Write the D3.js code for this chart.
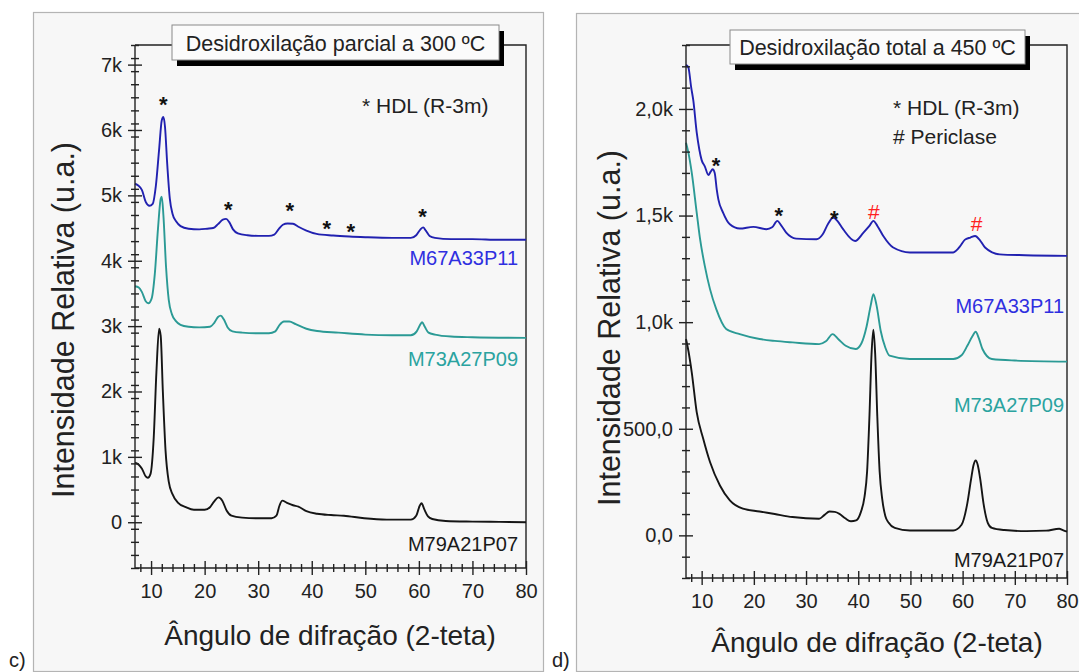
<!DOCTYPE html>
<html>
<head>
<meta charset="utf-8">
<script src="https://cdn.jsdelivr.net/npm/d3@7"></script>
<style>
  html, body { margin: 0; padding: 0; background: #ffffff; }
  svg { display: block; font-family: "Liberation Sans", Arial, sans-serif; }
</style>
</head>
<body>
<svg id="chart" width="1079" height="672"></svg>
<script>
// ---------------- DATA ----------------
const xTickValues = [10, 20, 30, 40, 50, 60, 70, 80];
const xTickLabels = ["10", "20", "30", "40", "50", "60", "70", "80"];

// Panel c) – partial dehydroxylation at 300 ºC
const cYTickValues = [0, 1000, 2000, 3000, 4000, 5000, 6000, 7000];
const cYTickLabels = ["0", "1k", "2k", "3k", "4k", "5k", "6k", "7k"];

const cM67A33P11 = [[7,5180],[7.6,5150],[8.3,5080],[9.0,4900],[9.7,4840],[10.3,4870],[10.9,5150],[11.5,5700],[12.0,6150],[12.3,6200],[12.6,6050],[13.0,5500],[13.5,4950],[14.0,4720],[14.7,4600],[15.5,4530],[17,4490],[19,4480],[20.5,4490],[21.6,4500],[22.5,4560],[23.4,4630],[24.0,4640],[24.6,4590],[25.3,4480],[26.2,4420],[28,4390],[30,4380],[32,4380],[33,4400],[33.8,4480],[34.6,4550],[35.5,4570],[36.5,4565],[37.5,4520],[39,4460],[40.9,4410],[44,4385],[47,4370],[50,4360],[55,4350],[58.5,4350],[59.5,4390],[60.3,4480],[60.8,4510],[61.3,4460],[62.0,4380],[63,4350],[66,4330],[70,4330],[75,4320],[80,4320]];

const cM73A27P09 = [[7,3610],[7.7,3590],[8.3,3520],[9.0,3380],[9.5,3350],[10.1,3420],[10.7,3800],[11.3,4500],[11.8,4950],[12.0,4980],[12.3,4700],[12.8,3900],[13.3,3400],[13.9,3180],[14.6,3080],[15.5,3020],[17,2990],[19,2980],[21,2990],[21.8,3050],[22.5,3140],[23.0,3160],[23.6,3100],[24.3,2980],[25.2,2920],[27,2900],[30,2890],[32,2890],[33.2,2920],[34.0,3020],[34.8,3070],[35.8,3070],[37,3030],[39,2960],[41,2925],[45,2900],[50,2870],[55,2860],[58.5,2860],[59.6,2920],[60.3,3030],[60.6,3060],[61.1,2990],[61.8,2900],[63,2870],[66,2840],[70,2830],[80,2820]];

const cM79A21P07 = [[7,910],[7.7,880],[8.3,820],[9.0,700],[9.4,680],[9.9,740],[10.5,1300],[11.0,2300],[11.5,2960],[11.8,2850],[12.2,2000],[12.7,1100],[13.3,620],[14.0,430],[15.0,300],[16.5,230],[18,190],[20,190],[21.0,230],[21.8,320],[22.6,380],[23.3,330],[24.1,180],[25,100],[27,70],[30,60],[32.5,60],[33.4,100],[34.0,260],[34.5,330],[35.3,300],[36.5,260],[37.5,240],[39,170],[41,130],[43.6,110],[46,100],[49.8,60],[54,40],[58.5,40],[59.5,100],[60.2,260],[60.5,290],[61.0,200],[61.7,90],[62.5,50],[65,20],[70,10],[75,5],[80,0]];

// peak markers of panel c) [2θ, intensity, symbol]
const cMarkers = [[12.3,6480,"*"],[24.4,4870,"*"],[35.9,4850,"*"],[42.8,4580,"*"],[47.3,4530,"*"],[60.7,4760,"*"]];

// Panel d) – total dehydroxylation at 450 ºC
const dYTickValues = [0, 500, 1000, 1500, 2000];
const dYTickLabels = ["0,0", "500,0", "1,0k", "1,5k", "2,0k"];

const dM67A33P11 = [[7,2207],[7.45,2195],[8.0,2100],[8.4,2040],[9.05,1890],[9.55,1810],[10.0,1760],[10.6,1731],[11.3,1690],[11.7,1705],[12.1,1717],[12.5,1700],[12.9,1620],[13.2,1576],[14.1,1514],[15.4,1459],[17.3,1439],[19.9,1447],[22.4,1436],[23.5,1445],[24.5,1475],[25.2,1455],[26.2,1420],[28.1,1392],[32,1389],[33.2,1412],[34.2,1460],[35.2,1491],[36.0,1475],[37.1,1436],[39.4,1381],[41,1420],[42.1,1450],[42.9,1475],[43.7,1450],[44.8,1404],[46.7,1350],[49.9,1327],[58.2,1327],[59.5,1355],[60.4,1386],[61.5,1397],[62.4,1404],[63.3,1385],[64.3,1350],[67.1,1318],[72,1314],[80,1311]];

const dM73A27P09 = [[7,1842],[7.4,1802],[8.1,1701],[9.05,1514],[9.7,1389],[10.6,1264],[11.6,1155],[12.8,1061],[14.7,968],[17.3,944],[21.1,921],[24,912],[27.4,905],[32.5,897],[33.8,910],[35.1,944],[36.2,920],[37.6,889],[39.5,874],[40.6,900],[41.6,980],[42.4,1080],[42.9,1131],[43.5,1080],[44.3,960],[45.2,880],[46,843],[49.9,827],[58.2,827],[59.8,845],[60.9,889],[61.9,935],[62.5,955],[63.1,925],[63.8,874],[65.6,827],[70,820],[80,815]];

const dM79A21P07 = [[7,921],[7.5,860],[8.1,765],[9.05,578],[10.3,453],[11.6,344],[13.5,234],[15.4,164],[17.9,125],[21.1,112],[24,100],[27.4,86],[32.5,78],[33.5,95],[34.5,112],[35.5,110],[36.4,101],[37.5,80],[38.6,66],[39.6,70],[40.5,109],[41.2,180],[41.7,300],[42.15,560],[42.55,850],[42.9,965],[43.25,850],[43.65,560],[44.1,300],[44.6,170],[45.2,90],[45.8,60],[47,35],[49.9,23],[58.2,23],[59.8,50],[60.9,150],[61.6,260],[62.1,330],[62.5,351],[62.9,330],[63.4,260],[64.0,150],[64.8,60],[65.6,35],[68,25],[72.2,20],[76,22],[78.5,31],[79.2,25],[80,17]];

const dMarkers = [[12.75,1763,"*"],[24.8,1529,"*"],[35.4,1511,"*"],[43.0,1520,"#"],[62.7,1463,"#"]];

const seriesNames = ["M67A33P11", "M73A27P09", "M79A21P07"];
const seriesColors = ["#2121b0", "#2b9a95", "#151515"];
const labelColors = ["#2f2fe0", "#2aa3a0", "#1a1a1a"];

// ---------------- DRAWING ----------------
const svg = d3.select("#chart");
const FONT = '"Liberation Sans", Arial, sans-serif';

function drawPanel(cfg) {
  const g = svg.append("g");
  // panel frame
  g.append("rect").attr("x", cfg.frame[0] + 0.5).attr("y", cfg.frame[1] + 0.5)
    .attr("width", cfg.frame[2]).attr("height", cfg.frame[3])
    .attr("fill", "#f7f7f7").attr("stroke", "#b4b4b4").attr("stroke-width", 1.2);

  const x = d3.scaleLinear().domain([7, 80]).range([cfg.left, cfg.right]);
  const y = d3.scaleLinear().domain(cfg.yDomain).range([cfg.bottom, cfg.top]);

  // frame top + right lines
  g.append("path")
    .attr("d", `M${cfg.left},${cfg.top}H${cfg.right}V${cfg.bottom}`)
    .attr("fill", "none").attr("stroke", "#222").attr("stroke-width", 1.4);

  // series
  const line = d3.line().x(d => x(d[0])).y(d => y(d[1])).curve(d3.curveMonotoneX);
  cfg.series.forEach((s, i) => {
    g.append("path").datum(s).attr("d", line)
      .attr("fill", "none").attr("stroke", seriesColors[i])
      .attr("stroke-width", 1.9).attr("stroke-linejoin", "round");
  });

  // y axis minor
  const yMinor = d3.range(cfg.yDomain[0], cfg.yDomain[1] + 1, cfg.yMinorStep)
    .filter(v => !cfg.yTicks.includes(v) && v >= cfg.yDomain[0] && v <= cfg.yDomain[1]);
  const gyMinor = g.append("g").attr("transform", `translate(${cfg.left},0)`)
    .call(d3.axisLeft(y).tickValues(yMinor).tickFormat("").tickSize(4));
  gyMinor.select(".domain").remove();
  gyMinor.selectAll(".tick line").attr("x1", 4).attr("x2", -4).attr("stroke", "#222").attr("stroke-width", 1.4);

  const gy = g.append("g").attr("transform", `translate(${cfg.left},0)`)
    .call(d3.axisLeft(y).tickValues(cfg.yTicks).tickFormat((d, i) => cfg.yLabels[i]).tickSize(7).tickPadding(6));
  gy.select(".domain").remove();
  gy.selectAll(".tick line").attr("x1", 7).attr("x2", -7).attr("stroke", "#222").attr("stroke-width", 1.4);
  gy.selectAll(".tick text").attr("font-size", 20).attr("font-family", FONT).attr("fill", "#222");

  // x axis minor
  const xMinor = d3.range(8, 81, 2).filter(v => v % 10 !== 0);
  const gxMinor = g.append("g").attr("transform", `translate(0,${cfg.bottom})`)
    .call(d3.axisBottom(x).tickValues(xMinor).tickFormat("").tickSize(4));
  gxMinor.select(".domain").remove();
  gxMinor.selectAll(".tick line").attr("y1", -4).attr("y2", 4).attr("stroke", "#222").attr("stroke-width", 1.4);

  const gx = g.append("g").attr("transform", `translate(0,${cfg.bottom})`)
    .call(d3.axisBottom(x).tickValues(xTickValues).tickFormat((d, i) => xTickLabels[i]).tickSize(7).tickPadding(9));
  gx.select(".domain").remove();
  gx.selectAll(".tick line").attr("y1", -7).attr("y2", 7).attr("stroke", "#222").attr("stroke-width", 1.4);
  gx.selectAll(".tick text").attr("font-size", 20).attr("font-family", FONT).attr("fill", "#222");

  // left + bottom axis lines
  g.append("path")
    .attr("d", `M${cfg.left},${cfg.top}V${cfg.bottom}H${cfg.right}`)
    .attr("fill", "none").attr("stroke", "#222").attr("stroke-width", 1.4);

  // title box with shadow
  const tb = cfg.titleBox;
  g.append("rect").attr("x", tb[0] + 5).attr("y", tb[1] + 6).attr("width", tb[2]).attr("height", tb[3]).attr("fill", "#000");
  g.append("rect").attr("x", tb[0]).attr("y", tb[1]).attr("width", tb[2]).attr("height", tb[3])
    .attr("fill", "#fbfbfb").attr("stroke", "#8a8a8a").attr("stroke-width", 1);
  g.append("text").attr("x", tb[0] + tb[2] / 2).attr("y", tb[1] + tb[3] / 2 + 8)
    .attr("text-anchor", "middle").attr("font-size", 21.5).attr("fill", "#222").text(cfg.title);

  // legend text
  cfg.legend.forEach((t, i) => {
    g.append("text").attr("x", cfg.legendX).attr("y", cfg.legendY + i * 29)
      .attr("font-size", 21).attr("fill", "#222").text(t);
  });

  // peak markers
  cfg.markers.forEach(m => {
    g.append("text").attr("x", x(m[0])).attr("y", y(m[1]))
      .attr("dy", m[2] === "*" ? "0.6em" : "0.36em")
      .attr("text-anchor", "middle").attr("font-size", m[2] === "*" ? 22 : 21)
      .attr("font-weight", m[2] === "*" ? "bold" : "normal")
      .attr("fill", m[2] === "*" ? "#111" : "#ff2020").text(m[2]);
  });

  // series labels
  cfg.seriesLabelY.forEach((ly, i) => {
    g.append("text").attr("x", cfg.labelRight).attr("y", ly)
      .attr("text-anchor", "end").attr("font-size", 20).attr("fill", labelColors[i]).text(seriesNames[i]);
  });

  // axis titles
  g.append("text").attr("x", (cfg.xTitle[0])).attr("y", cfg.xTitle[1])
    .attr("text-anchor", "middle").attr("font-size", 28).attr("fill", "#222")
    .text("Ângulo de difração (2-teta)");
  g.append("text").attr("transform", `translate(${cfg.yTitle[0]},${cfg.yTitle[1]}) rotate(-90)`)
    .attr("text-anchor", "middle").attr("font-size", 30.5).attr("fill", "#222")
    .text("Intensidade Relativa (u.a.)");

  // panel letter
  g.append("text").attr("x", cfg.letter[0]).attr("y", cfg.letter[1])
    .attr("font-size", 20).attr("fill", "#222").text(cfg.letter[2]);
}

drawPanel({
  frame: [33, 12, 510, 659],
  left: 135, right: 526, top: 45, bottom: 568,
  yDomain: [-700, 7300], yMinorStep: 200,
  yTicks: cYTickValues, yLabels: cYTickLabels,
  series: [cM67A33P11, cM73A27P09, cM79A21P07],
  titleBox: [172, 25, 327, 35],
  title: "Desidroxilação parcial a 300 ºC",
  legend: ["* HDL (R-3m)"], legendX: 362, legendY: 113,
  markers: cMarkers,
  seriesLabelY: [265, 366, 551], labelRight: 518,
  xTitle: [330, 645], yTitle: [74, 320],
  letter: [9, 667, "c)"]
});

drawPanel({
  frame: [576, 13, 520, 658],
  left: 686, right: 1067, top: 45, bottom: 578,
  yDomain: [-200, 2300], yMinorStep: 100,
  yTicks: dYTickValues, yLabels: dYTickLabels,
  series: [dM67A33P11, dM73A27P09, dM79A21P07],
  titleBox: [730, 30, 295, 34],
  title: "Desidroxilação total a 450 ºC",
  legend: ["* HDL (R-3m)", "# Periclase"], legendX: 893, legendY: 115,
  markers: dMarkers,
  seriesLabelY: [313, 412, 567], labelRight: 1064,
  xTitle: [877, 652], yTitle: [620, 328],
  letter: [552, 667, "d)"]
});
</script>
</body>
</html>
